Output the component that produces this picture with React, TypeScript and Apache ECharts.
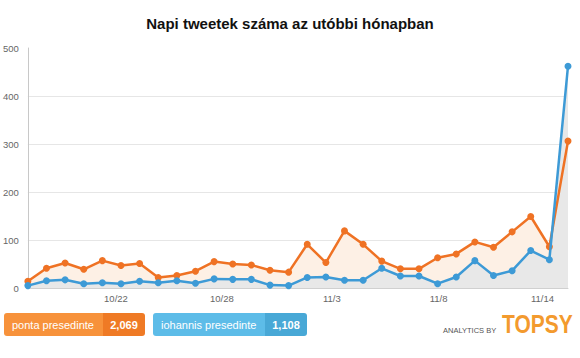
import React, { useEffect, useRef } from "react";
import * as echarts from "echarts";

const title = "Napi tweetek száma az utóbbi hónapban";
const pontaName = "ponta presedinte";
const iohannisName = "iohannis presedinte";
const pontaTotal = "2,069";
const iohannisTotal = "1,108";

// daily tweet counts, 30 days
const pontaValues = [14, 41, 52, 39, 57, 47, 51, 22, 26, 35, 55, 50, 48, 37, 33, 91, 53, 119, 91, 56, 40, 40, 63, 71, 96, 85, 117, 149, 86, 306];
const iohannisValues = [5, 15, 17, 9, 11, 9, 14, 11, 15, 10, 19, 18, 18, 6, 5, 22, 23, 16, 16, 41, 25, 25, 9, 23, 57, 26, 36, 78, 59, 462];

// x tick labels and their place on the day index axis
const tickLabels = ["10/22", "10/28", "11/3", "11/8", "11/14"];
const tickAt = [4.73, 10.42, 16.32, 22.05, 27.63];

const yTicks = [0, 100, 200, 300, 400, 500];

const FONT = "'Liberation Sans', Arial, sans-serif";
const ORANGE = "#ef7224";
const BLUE = "#3d9ad6";

export default function App() {
  const ref = useRef<HTMLDivElement>(null);

  useEffect(() => {
    if (!ref.current) return;
    const chart = echarts.init(ref.current, null, { renderer: "svg" });
    const pontaData = pontaValues.map((v, i) => [i, v]);
    const iohannisData = iohannisValues.map((v, i) => [i, v]);

    chart.setOption({
      animation: false,
      backgroundColor: "#ffffff",
      textStyle: { fontFamily: FONT },
      title: {
        text: title,
        left: "center",
        top: 11,
        textStyle: { fontSize: 15, fontWeight: "bold", color: "#111", fontFamily: FONT },
      },
      grid: { left: 27, right: 12, top: 48, bottom: 70, containLabel: false },
      xAxis: {
        type: "value",
        min: 0,
        max: pontaValues.length - 1,
        axisLine: { show: true, lineStyle: { color: "#d0d0d0", width: 1 } },
        axisTick: { show: false },
        splitLine: { show: false },
        axisLabel: {
          customValues: tickAt,
          formatter: (v: number) => {
            const k = tickAt.indexOf(v);
            return k >= 0 ? tickLabels[k] : "";
          },
          color: "#666",
          fontSize: 9.5,
          margin: 5,
          fontFamily: FONT,
        },
      },
      yAxis: {
        type: "value",
        min: yTicks[0],
        max: yTicks[yTicks.length - 1],
        interval: yTicks[1] - yTicks[0],
        axisLine: { show: true, lineStyle: { color: "#c8c8c8", width: 1 } },
        axisTick: { show: false },
        splitLine: { show: true, showMaxLine: false, lineStyle: { color: "#e6e6e6", width: 1 } },
        axisLabel: { color: "#666", fontSize: 9.5, margin: 9, fontFamily: FONT },
      },
      series: [
        {
          name: pontaName + " area",
          type: "line",
          data: pontaData,
          showSymbol: false,
          symbol: "none",
          lineStyle: { width: 0 },
          areaStyle: { color: "#fdf0e5", opacity: 1 },
          z: 1,
          silent: true,
        },
        {
          name: iohannisName + " area",
          type: "line",
          data: iohannisData,
          showSymbol: false,
          symbol: "none",
          lineStyle: { width: 0 },
          areaStyle: { color: "#e8e8e8", opacity: 1 },
          z: 1,
          silent: true,
        },
        {
          name: pontaName,
          type: "line",
          data: pontaData,
          symbol: "circle",
          symbolSize: 7,
          itemStyle: { color: ORANGE },
          lineStyle: { color: ORANGE, width: 2.5 },
          z: 3,
        },
        {
          name: iohannisName,
          type: "line",
          data: iohannisData,
          symbol: "circle",
          symbolSize: 7,
          itemStyle: { color: BLUE },
          lineStyle: { color: BLUE, width: 2.5 },
          z: 4,
        },
      ],
      graphic: [
        { type: "rect", shape: { x: 4, y: 313, width: 99, height: 23, r: [3, 0, 0, 3] }, style: { fill: "#f7923b" } },
        { type: "rect", shape: { x: 103, y: 313, width: 42, height: 23, r: [0, 3, 3, 0] }, style: { fill: "#ef7a25" } },
        { type: "text", x: 12, y: 324.5, style: { text: pontaName, fill: "#fff", fontSize: 11, fontFamily: FONT, verticalAlign: "middle" } },
        { type: "text", x: 124, y: 324.5, style: { text: pontaTotal, fill: "#fff", fontSize: 11, fontWeight: "bold", fontFamily: FONT, verticalAlign: "middle", align: "center" } },
        { type: "rect", shape: { x: 153, y: 313, width: 112, height: 23, r: [3, 0, 0, 3] }, style: { fill: "#5dbce8" } },
        { type: "rect", shape: { x: 265, y: 313, width: 42, height: 23, r: [0, 3, 3, 0] }, style: { fill: "#48a8d6" } },
        { type: "text", x: 161, y: 324.5, style: { text: iohannisName, fill: "#fff", fontSize: 11, fontFamily: FONT, verticalAlign: "middle" } },
        { type: "text", x: 286, y: 324.5, style: { text: iohannisTotal, fill: "#fff", fontSize: 11, fontWeight: "bold", fontFamily: FONT, verticalAlign: "middle", align: "center" } },
        { type: "text", x: 443, y: 330, style: { text: "ANALYTICS BY", fill: "#555", fontSize: 7.5, fontFamily: FONT, verticalAlign: "middle" } },
        { type: "text", x: 502, y: 324, scaleX: 0.84, style: { text: "TOPSY", fill: "#f39a2e", fontSize: 25, fontWeight: "bold", fontFamily: FONT, verticalAlign: "middle" } },
      ],
    });
    return () => chart.dispose();
  }, []);

  return (
    <div
      ref={ref}
      style={{ position: "fixed", left: 0, top: 0, width: 580, height: 358, background: "#fff" }}
    />
  );
}
